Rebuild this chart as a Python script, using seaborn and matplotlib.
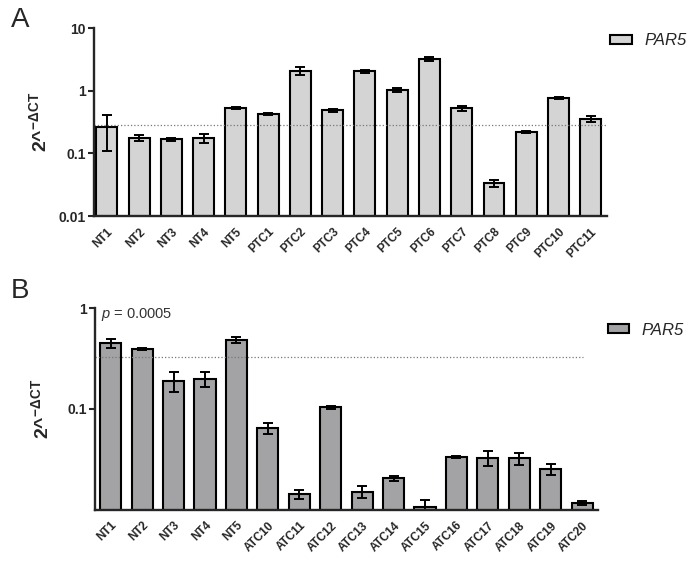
import matplotlib
matplotlib.use('Agg')
import matplotlib.pyplot as plt
import seaborn as sns
import pandas as pd

# panel A: normal thyroid vs PTC
samples_a = ['NT1', 'NT2', 'NT3', 'NT4', 'NT5', 'PTC1', 'PTC2', 'PTC3', 'PTC4',
             'PTC5', 'PTC6', 'PTC7', 'PTC8', 'PTC9', 'PTC10', 'PTC11']
values_a = [0.26, 0.177, 0.167, 0.174, 0.54, 0.42, 2.08, 0.49, 2.05, 1.02,
            3.23, 0.53, 0.0332, 0.221, 0.77, 0.36]
errors_a = [0.15, 0.017, 0.01, 0.027, 0.02, 0.015, 0.32, 0.03, 0.1, 0.08,
            0.25, 0.05, 0.0042, 0.008, 0.02, 0.04]
cutoff_a = 0.283
yticks_a = [0.01, 0.1, 1, 10]
yticklabels_a = ['0.01', '0.1', '1', '10']

# panel B: normal thyroid vs ATC
samples_b = ['NT1', 'NT2', 'NT3', 'NT4', 'NT5', 'ATC10', 'ATC11', 'ATC12', 'ATC13',
             'ATC14', 'ATC15', 'ATC16', 'ATC17', 'ATC18', 'ATC19', 'ATC20']
values_b = [0.449, 0.392, 0.19, 0.199, 0.484, 0.0643, 0.0142, 0.104, 0.0151,
            0.0205, 0.0106, 0.0334, 0.0324, 0.0324, 0.0252, 0.0116]
errors_b = [0.05, 0.01, 0.042, 0.035, 0.03, 0.0083, 0.0015, 0.004, 0.0021,
            0.001, 0.0019, 0.0007, 0.0055, 0.0043, 0.0032, 0.0005]
cutoff_b = 0.33
yticks_b = [0.1, 1]
yticklabels_b = ['0.1', '1']

gene = 'PAR5'

sns.set_style('ticks')
plt.rcParams['font.family'] = ['Liberation Sans', 'DejaVu Sans']
plt.rcParams['mathtext.fontset'] = 'custom'
plt.rcParams['mathtext.rm'] = 'Liberation Sans:bold'
plt.rcParams['mathtext.it'] = 'Liberation Sans:italic'
plt.rcParams['mathtext.bf'] = 'Liberation Sans:bold'

fig = plt.figure(figsize=(6.96, 5.76), dpi=100)
ax_a = fig.add_axes([0.135, 0.625, 0.737, 0.326])
ax_b = fig.add_axes([0.1365, 0.115, 0.7225, 0.35])


def draw_panel(ax, samples, values, errors, color, cutoff, yticks, yticklabels,
               ylim, xlim, width, cut_end, legend_xy):
    df = pd.DataFrame({'sample': samples, 'value': values, 'gene': gene})
    sns.barplot(data=df, x='sample', y='value', hue='gene', palette=[color],
                width=width, edgecolor='black', linewidth=1.5, ax=ax,
                errorbar=None, saturation=1)
    ax.errorbar(range(len(samples)), values, yerr=errors, fmt='none',
                ecolor='black', elinewidth=1.4, capsize=3.5, capthick=1.4)
    ax.set_yscale('log')
    ax.set_ylim(*ylim)
    ax.set_xlim(*xlim)
    ax.minorticks_off()
    ax.set_yticks(yticks)
    ax.set_yticklabels(yticklabels, fontsize=10, fontweight='bold')
    ax.set_xticks(range(len(samples)))
    ax.set_xticklabels(samples, rotation=45, ha='right', rotation_mode='anchor',
                       fontsize=8.5, fontweight='bold')
    ax.tick_params(axis='x', length=0, pad=7)
    ax.tick_params(axis='y', length=4, width=1.5, pad=2)
    for s in ['left', 'bottom']:
        ax.spines[s].set_linewidth(1.7)
    sns.despine(ax=ax)
    ax.axhline(cutoff, xmax=cut_end, color='#777777', linestyle=':', linewidth=0.9)
    ax.set_xlabel('')
    ax.set_ylabel(r'2^$^{-\Delta\mathrm{CT}}$', fontsize=14, fontweight='bold')
    ax.yaxis.set_label_coords(-0.085, 0.5)
    handles, labels = ax.get_legend_handles_labels()
    ax.legend(handles, labels, loc='center left', bbox_to_anchor=legend_xy,
              bbox_transform=fig.transFigure, borderaxespad=0, borderpad=0,
              frameon=False, prop={'style': 'italic', 'size': 12},
              handlelength=1.3, handleheight=0.45, handletextpad=0.75)


draw_panel(ax_a, samples_a, values_a, errors_a, '#d4d4d4', cutoff_a,
           yticks_a, yticklabels_a, (0.01, 10), (-0.4, 15.5), 0.65, 1.0,
           (0.877, 0.929))
draw_panel(ax_b, samples_b, values_b, errors_b, '#a3a3a5', cutoff_b,
           yticks_b, yticklabels_b, (0.01, 1), (-0.5, 15.5), 0.67, 0.97,
           (0.873, 0.427))

ax_b.text(0.012, 0.97, r'$p$ = 0.0005', transform=ax_b.transAxes, fontsize=10.5,
          ha='left', va='center', color='#333333')

fig.text(0.015, 0.965, 'A', fontsize=20, ha='left', va='center')
fig.text(0.015, 0.495, 'B', fontsize=20, ha='left', va='center')

fig.savefig('out.png', dpi=100)
